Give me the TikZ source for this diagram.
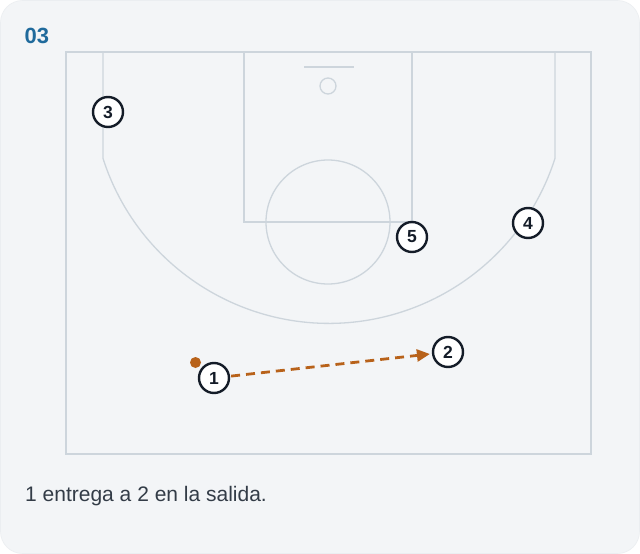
\documentclass[tikz,border=0pt]{standalone}
\usepackage{fontspec}
\setmainfont{Liberation Sans}
\usetikzlibrary{arrows.meta}
\definecolor{bgpanel}{HTML}{F3F5F7}
\definecolor{courtline}{HTML}{CDD5DC}
\definecolor{playerline}{HTML}{141C28}
\definecolor{passcol}{HTML}{B8621A}
\definecolor{titleblue}{HTML}{1F6A9C}
\definecolor{captext}{HTML}{333C47}
\tikzset{
  court/.style={draw=courtline, line width=1.3pt},
  player/.style={circle, draw=playerline, line width=2.4pt, fill=white, minimum size=30pt, inner sep=0pt, font=\bfseries\fontsize{17.5}{17.5}\selectfont, text=playerline},
  pass/.style={draw=passcol, line width=2.8pt, dash pattern=on 9pt off 6pt, -{Triangle[length=13pt,width=12pt]}, shorten >=2pt, shorten <=1pt},
}
\begin{document}
\begin{tikzpicture}[x=1pt,y=-1pt]
\useasboundingbox (0,0) rectangle (640,554);
\fill[white] (0,0) rectangle (640,554);
\fill[bgpanel, draw=courtline!40, line width=0.6pt, rounded corners=22pt] (0.5,0.5) rectangle (639.5,553.5);
\node[anchor=base west, inner sep=0pt, text=titleblue, font=\bfseries\fontsize{22}{22}\selectfont] (title) at (24.5,43) {03};
% court
\draw[court] (66,52) rectangle (591,454);
\draw[court] (244,52) -- (244,222) -- (412,222) -- (412,52);
\draw[court] (328,222) circle[radius=62];
\draw[court] (304,67) -- (354,67);
\draw[court] (328,86) circle[radius=8];
\draw[court] (103,52) -- (103,158.4) arc[start angle=162.25, end angle=17.75, radius=237.3] -- (555,52);
% ball
\fill[passcol] (195.5,362.5) circle[radius=5.5];
\node[inner sep=0pt, minimum size=11pt] (ball) at (195.5,362.5) {};
% players
\node[player] (p3) at (108,112) {3};
\node[player] (p5) at (412,237) {5};
\node[player] (p4) at (528,223) {4};
\node[player] (p2) at (448,352) {2};
\node[player] (p1) at (214,378) {1};
\draw[pass] (p1) -- (p2);
\node[anchor=base west, inner sep=0pt, text=captext, font=\fontsize{21}{21}\selectfont] (caption) at (25,501) {1 entrega a 2 en la salida.};
\end{tikzpicture}
\end{document}
